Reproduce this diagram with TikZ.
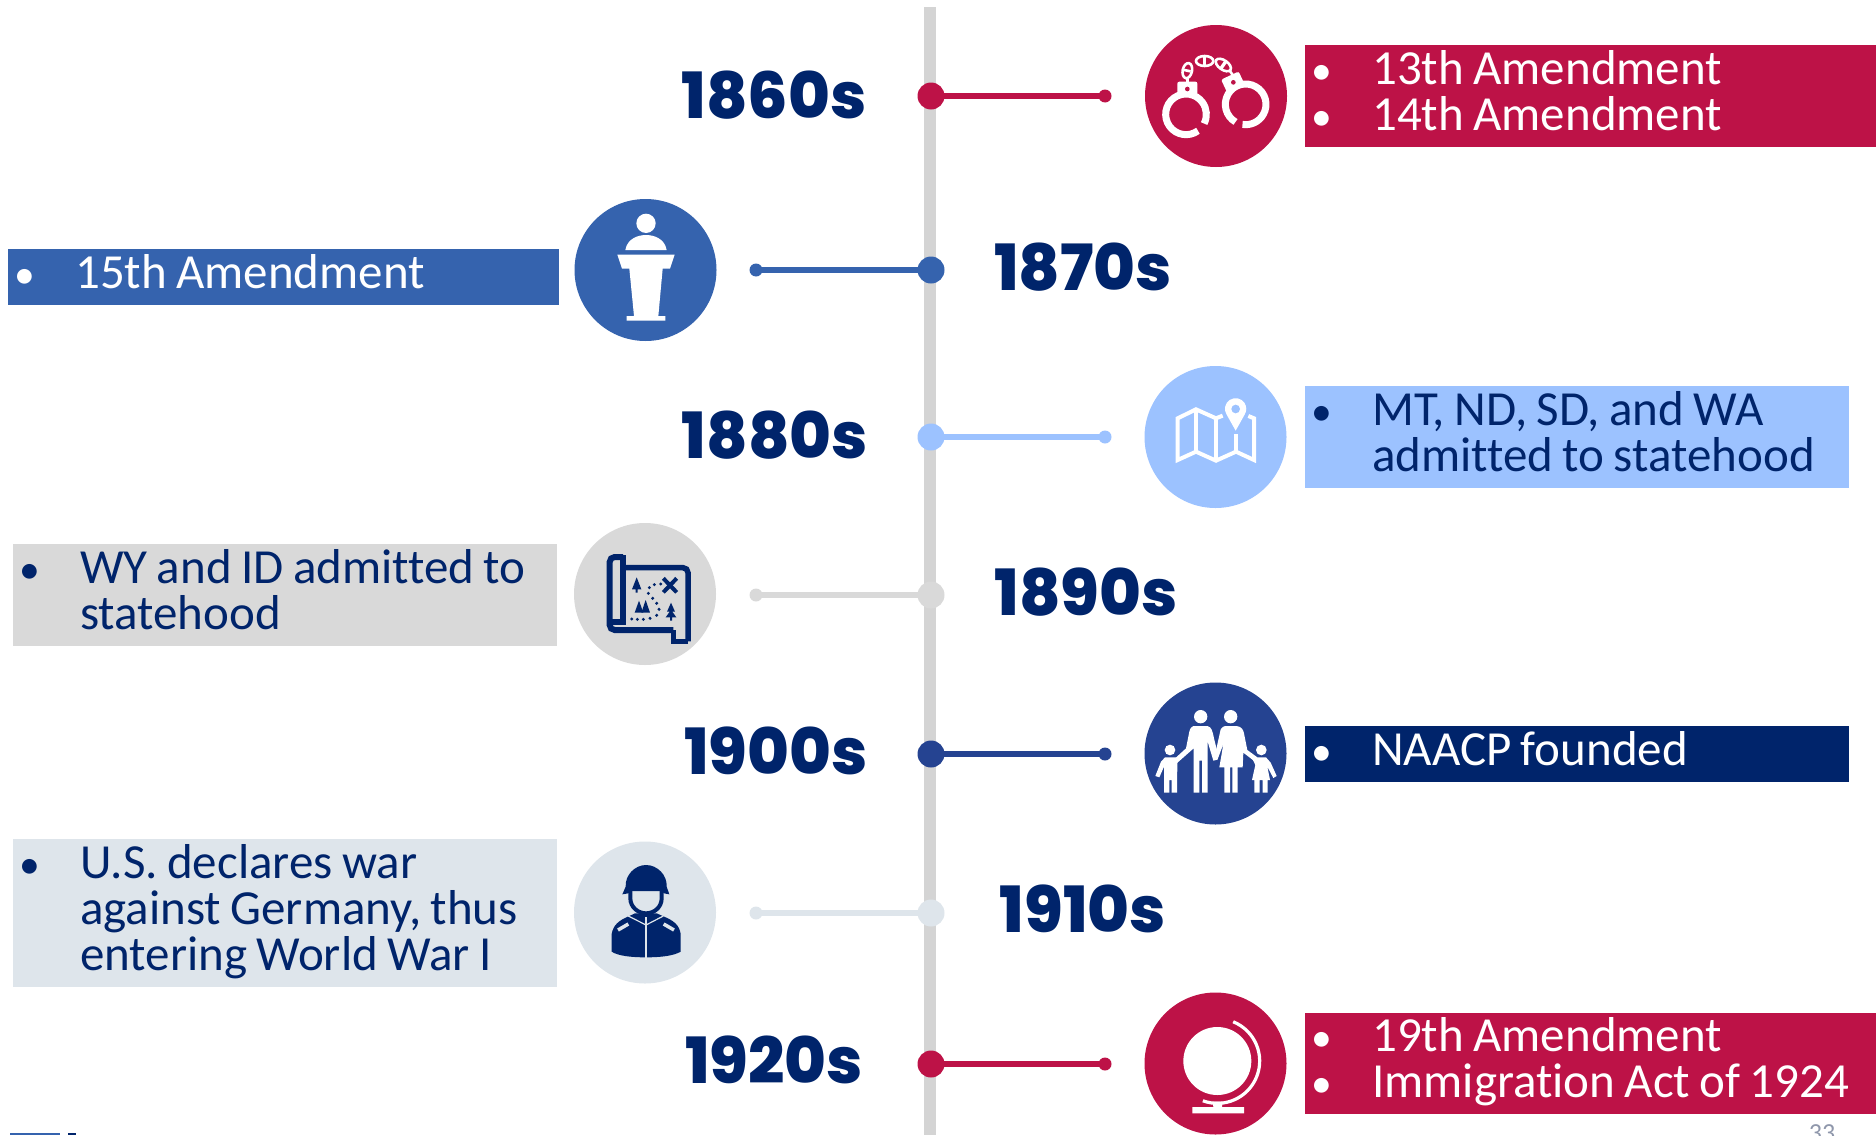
\documentclass[tikz,border=0pt]{standalone}
\usepackage{fontspec}
\setmainfont{Carlito}[Ligatures=NoCommon]
\newfontfamily\yearfont{Poppins}[UprightFont=* ExtraBold]

\definecolor{crimson}{HTML}{BD1247}
\definecolor{midblue}{HTML}{3563AE}
\definecolor{skyblue}{HTML}{9CC2FF}
\definecolor{lightgray}{HTML}{D9D9D9}
\definecolor{navy}{HTML}{00246B}
\definecolor{royal}{HTML}{254391}
\definecolor{paleblue}{HTML}{DEE5EB}
\definecolor{spinegray}{HTML}{D4D4D4}
\definecolor{pagegray}{HTML}{8F97AB}

\newcommand{\itemmark}{\makebox[57pt][l]{\hspace{-4pt}\scalebox{0.85}{\textbullet}}}
\newcommand{\itemskip}{\hspace*{57pt}}

\tikzset{
  zoomed/.style={x=0.33333pt,y=-0.33333pt},
  yearlabel/.style={font=\yearfont\fontsize{63.8}{64}\selectfont,text=navy,inner sep=0pt},
  iconcircle/.style={circle,minimum size=142pt,inner sep=0pt},
  itembox/.style={anchor=west,inner xsep=10pt,inner ysep=0pt,align=left,
    font=\fontsize{49}{46}\selectfont,
    execute at begin node={\spaceskip=0.19em\relax},
    execute at end node={\par\vspace*{#1}}},
  itembox/.default=10pt,
  bigdot/.style={circle,minimum size=27pt,inner sep=0pt,outer sep=0pt},
  smalldot/.style={circle,minimum size=13pt,inner sep=0pt,outer sep=0pt}
}

\begin{document}
\begin{tikzpicture}[x=1pt,y=-1pt]

  \useasboundingbox (0,0) rectangle (1876,1135);

  % spine
  \coordinate (spinetop) at (930,7);
  \coordinate (spinebot) at (930,1135);
  \draw[spinegray,line width=12pt] (spinetop) -- (spinebot);

  % dots and connectors
  \foreach \name/\y/\endx/\col in {
    a/96/1105/crimson,
    b/270/756/midblue,
    c/437/1105/skyblue,
    d/595/756/lightgray,
    e/754/1105/royal,
    f/913/756/paleblue,
    g/1064/1105/crimson} {
    \node[bigdot,fill=\col] (dot\name) at (931,\y) {};
    \node[smalldot,fill=\col] (end\name) at (\endx,\y) {};
    \draw[\col,line width=5.5pt,shorten >=-1pt,shorten <=-1pt] (dot\name) -- (end\name);
  }

  % years
  \node[yearlabel] (y1860) at (774,95) {1860s};
  \node[yearlabel] (y1870) at (1083,267) {1870s};
  \node[yearlabel] (y1880) at (775,435) {1880s};
  \node[yearlabel] (y1890) at (1086,592) {1890s};
  \node[yearlabel] (y1900) at (776,751) {1900s};
  \node[yearlabel] (y1910) at (1083,909) {1910s};
  \node[yearlabel] (y1920) at (774,1060) {1920s};

  % text boxes
  \node[itembox,fill=crimson,text=white,text width=551pt,minimum height=102pt] (box1860) at (1305,96)
    {\itemmark 13th Amendment\\\itemmark 14th Amendment};
  \node[itembox,fill=midblue,text=white,text width=531pt,minimum height=56pt] (box1870) at (8,277)
    {\itemmark 15th Amendment};
  \node[itembox,fill=skyblue,text=navy,text width=524pt,minimum height=102pt] (box1880) at (1305,437)
    {\itemmark MT, ND, SD, and WA\\\itemskip admitted to statehood};
  \node[itembox,fill=lightgray,text=navy,text width=524pt,minimum height=102pt] (box1890) at (13,595)
    {\itemmark WY and ID admitted to\\\itemskip statehood};
  \node[itembox,fill=navy,text=white,text width=524pt,minimum height=56pt] (box1900) at (1305,754)
    {\itemmark NAACP founded};
  \node[itembox=3pt,fill=paleblue,text=navy,text width=524pt,minimum height=148pt] (box1910) at (13,913)
    {\itemmark U.S. declares war\\\itemskip against Germany, thus\\\itemskip entering World War I};
  \node[itembox=4pt,fill=crimson,text=white,text width=551pt,minimum height=101pt] (box1920) at (1305,1063.5)
    {\itemmark 19th Amendment\\\itemmark Immigration Act of 1924};

  % icon circles
  \node[iconcircle,fill=crimson] (icon1860) at (1216,96) {};
  \node[iconcircle,fill=midblue] (icon1870) at (645.5,270) {};
  \node[iconcircle,fill=skyblue] (icon1880) at (1215.5,437) {};
  \node[iconcircle,fill=lightgray] (icon1890) at (645,594) {};
  \node[iconcircle,fill=royal] (icon1900) at (1215.5,753.5) {};
  \node[iconcircle,fill=paleblue] (icon1910) at (645,912.5) {};
  \node[iconcircle,fill=crimson] (icon1920) at (1215.5,1063.5) {};

  % handcuffs
  \begin{scope}[shift={(1100,0)},zoomed]
    \draw[white,line width=7pt] (258,343)+(54:61) arc[start angle=54,end angle=387,radius=61];
    \draw[white,line width=7pt] (437,313)+(120:61) arc[start angle=120,end angle=459,radius=61];
    \fill[white,rounded corners=2pt] (232,245) rectangle (292,285);
    \fill[white,rotate around={25:(398,247)},rounded corners=2pt] (370,225) rectangle (428,268);
    \fill[crimson] (262,267) circle (7);
    \fill[crimson] (400,247) circle (7);
    \draw[white,line width=2.6pt,rotate around={-12:(262,212)}] (262,212) ellipse (14 and 23);
    \draw[white,line width=2.6pt] (314,183) ellipse (26 and 15);
    \draw[white,line width=2.6pt,rotate around={-35:(370,195)}] (370,195) ellipse (26 and 14);
    \fill[white,rotate around={-12:(262,212)}] (252,208) rectangle (272,216);
    \fill[white] (309,170) rectangle (319,196);
    \fill[white,rotate around={-35:(370,195)}] (365,182) rectangle (375,208);
    \draw[white,line width=2.6pt] (262,232) -- (262,248);
    \draw[white,line width=2.6pt] (388,210) -- (400,228);
  \end{scope}

  % lectern
  \begin{scope}[shift={(550,180)},zoomed]
    \fill[white] (288,130) circle (29);
    \fill[white] (226,210) .. controls (232,175) and (265,165) .. (288,165)
      .. controls (311,165) and (344,175) .. (350,210) -- cycle;
    \fill[white] (202,224) -- (374,224) -- (360,266) -- (338,266) -- (325,408) -- (346,408)
      -- (346,422) -- (230,422) -- (230,408) -- (252,408) -- (238,266) -- (216,266) -- cycle;
  \end{scope}

  % folded map
  \begin{scope}[shift={(1130,350)},zoomed]
    \draw[white,line width=4pt,line join=miter]
      (278,197) -- (258,205) -- (198,178) -- (143,205) -- (143,330) -- (198,305) -- (258,332)
      -- (318,305) -- (372,330) -- (372,205) -- (355,198);
    \draw[white,line width=4pt] (198,178) -- (198,305);
    \draw[white,line width=4pt] (258,205) -- (258,332);
    \draw[white,line width=4pt] (318,252) -- (318,305);
    \fill[white] (317,242) -- (290,194) arc[start angle=147,end angle=393,radius=32] -- cycle;
    \fill[skyblue] (317,177) circle (13);
  \end{scope}

  % treasure map
  \begin{scope}[shift={(560,510)},zoomed]
    \draw[navy,line width=6pt,rounded corners=5pt] (189,141) -- (149,141) -- (149,360) -- (340,360);
    \draw[navy,line width=6pt] (189,135) -- (189,335) -- (150,335);
    \draw[navy,line width=5.5pt,rounded corners=5pt] (189,173) -- (384,173) -- (384,394);
    \draw[navy,line width=5.5pt] (384,394) -- (341,394) -- (341,360);
    % trees
    \fill[navy] (230,202) -- (244,238) -- (233,238) -- (233,248) -- (227,248) -- (227,238) -- (216,238) -- cycle;
    \fill[navy] (237,272) -- (250,308) -- (224,308) -- cycle;
    \fill[navy] (257,270) -- (270,308) -- (244,308) -- cycle;
    \fill[navy] (333,278) -- (345,305) -- (337,305) -- (349,322) -- (336,322) -- (336,332) -- (330,332)
      -- (330,322) -- (317,322) -- (329,305) -- (321,305) -- cycle;
    % x mark
    \draw[navy,line width=4pt] (310,205) -- (350,247);
    \draw[navy,line width=4pt] (350,205) -- (310,247);
    % dotted route
    \foreach \dx/\dy in {215/327,232/328,250/328,270/325,290/316,297/298,290/280,278/265,
      265/250,268/233,283/224,302/222}
      \fill[navy] (\dx,\dy) circle (5);
  \end{scope}

  % family
  \begin{scope}[shift={(1130,670)},zoomed]
    \fill[white] (212,140) circle (20);
    \fill[white] (302,140) circle (20);
    % man
    \fill[white] (190,168) -- (232,168) .. controls (245,170) and (248,185) .. (252,205)
      -- (262,245) -- (258,270) -- (250,272) -- (233,215) -- (233,368) -- (216,368) -- (216,272)
      -- (208,272) -- (208,368) -- (191,368) -- (191,235) -- (140,280) -- (132,268) -- (168,235)
      -- (178,185) .. controls (180,175) and (185,170) .. (190,168) -- cycle;
    % woman
    \fill[white] (285,168) -- (320,168) .. controls (335,170) and (340,180) .. (342,190)
      -- (352,240) -- (382,262) -- (375,275) -- (340,248) -- (338,292) -- (323,292) -- (323,368)
      -- (307,368) -- (307,292) -- (300,292) -- (300,368) -- (283,368) -- (283,292) -- (268,292)
      -- (280,222) -- (262,270) -- (252,268) -- (266,205) -- (272,178) .. controls (275,172) and (280,170) .. (285,168) -- cycle;
    % left child
    \fill[white] (120,240) circle (16);
    \fill[white] (105,262) -- (135,262) -- (150,262) -- (142,278) -- (141,368) -- (125,368) -- (125,330)
      -- (118,330) -- (118,368) -- (102,368) -- (102,290) -- (88,322) -- (76,318) -- (93,275) -- cycle;
    % right child
    \fill[white] (394,240) circle (16);
    \fill[white] (380,262) -- (408,262) -- (422,278) -- (440,318) -- (430,324) -- (412,290) -- (420,330)
      -- (413,330) -- (413,368) -- (398,368) -- (398,330) -- (389,330) -- (389,368) -- (373,368)
      -- (373,330) -- (366,330) -- (376,285) -- (365,262) -- cycle;
  \end{scope}

  % soldier
  \begin{scope}[shift={(560,830)},zoomed]
    \fill[navy] (187,193) -- (197,170) .. controls (195,135) and (225,105) .. (258,105)
      .. controls (292,105) and (322,135) .. (320,170) -- (328,193) -- (312,190) -- (305,183)
      -- (212,183) -- (205,190) -- cycle;
    \draw[navy,line width=4pt] (211,183) -- (211,205) .. controls (211,232) and (235,250) .. (258,250)
      .. controls (282,250) and (305,232) .. (305,205) -- (305,183);
    \fill[navy] (155,312) .. controls (160,285) and (175,272) .. (208,258) -- (225,250) -- (290,250)
      -- (308,258) .. controls (342,272) and (358,285) .. (362,312) -- (362,365)
      .. controls (340,378) and (300,382) .. (258,382) .. controls (215,382) and (175,378) .. (155,365) -- cycle;
    \draw[paleblue,line width=1.2pt] (205,258) -- (258,285) -- (310,258);
    \draw[paleblue,line width=1.3pt] (258,262) -- (258,384);
    \draw[paleblue,line width=3.5pt] (174,300) -- (205,282);
    \draw[paleblue,line width=3.5pt] (311,282) -- (342,300);
  \end{scope}

  % globe
  \begin{scope}[shift={(1130,985)},zoomed]
    \fill[white] (262,228) circle (102);
    \draw[white,line width=3.2pt] (262,228)+(-68:127) arc[start angle=-68,end angle=110,radius=127];
    \fill[white] (248,350) -- (278,350) -- (276,366) -- (342,366) -- (342,385) -- (187,385) -- (187,366) -- (250,366) -- cycle;
  \end{scope}

  % footer
  \node[text=pagegray,font=\fontsize{26}{26}\selectfont,anchor=north,inner sep=0pt] (pagenum) at (1822,1124) {33};
  \fill[midblue] (10,1133) rectangle (60,1135);
  \fill[navy] (68,1133) rectangle (76,1135);

\end{tikzpicture}
\end{document}
